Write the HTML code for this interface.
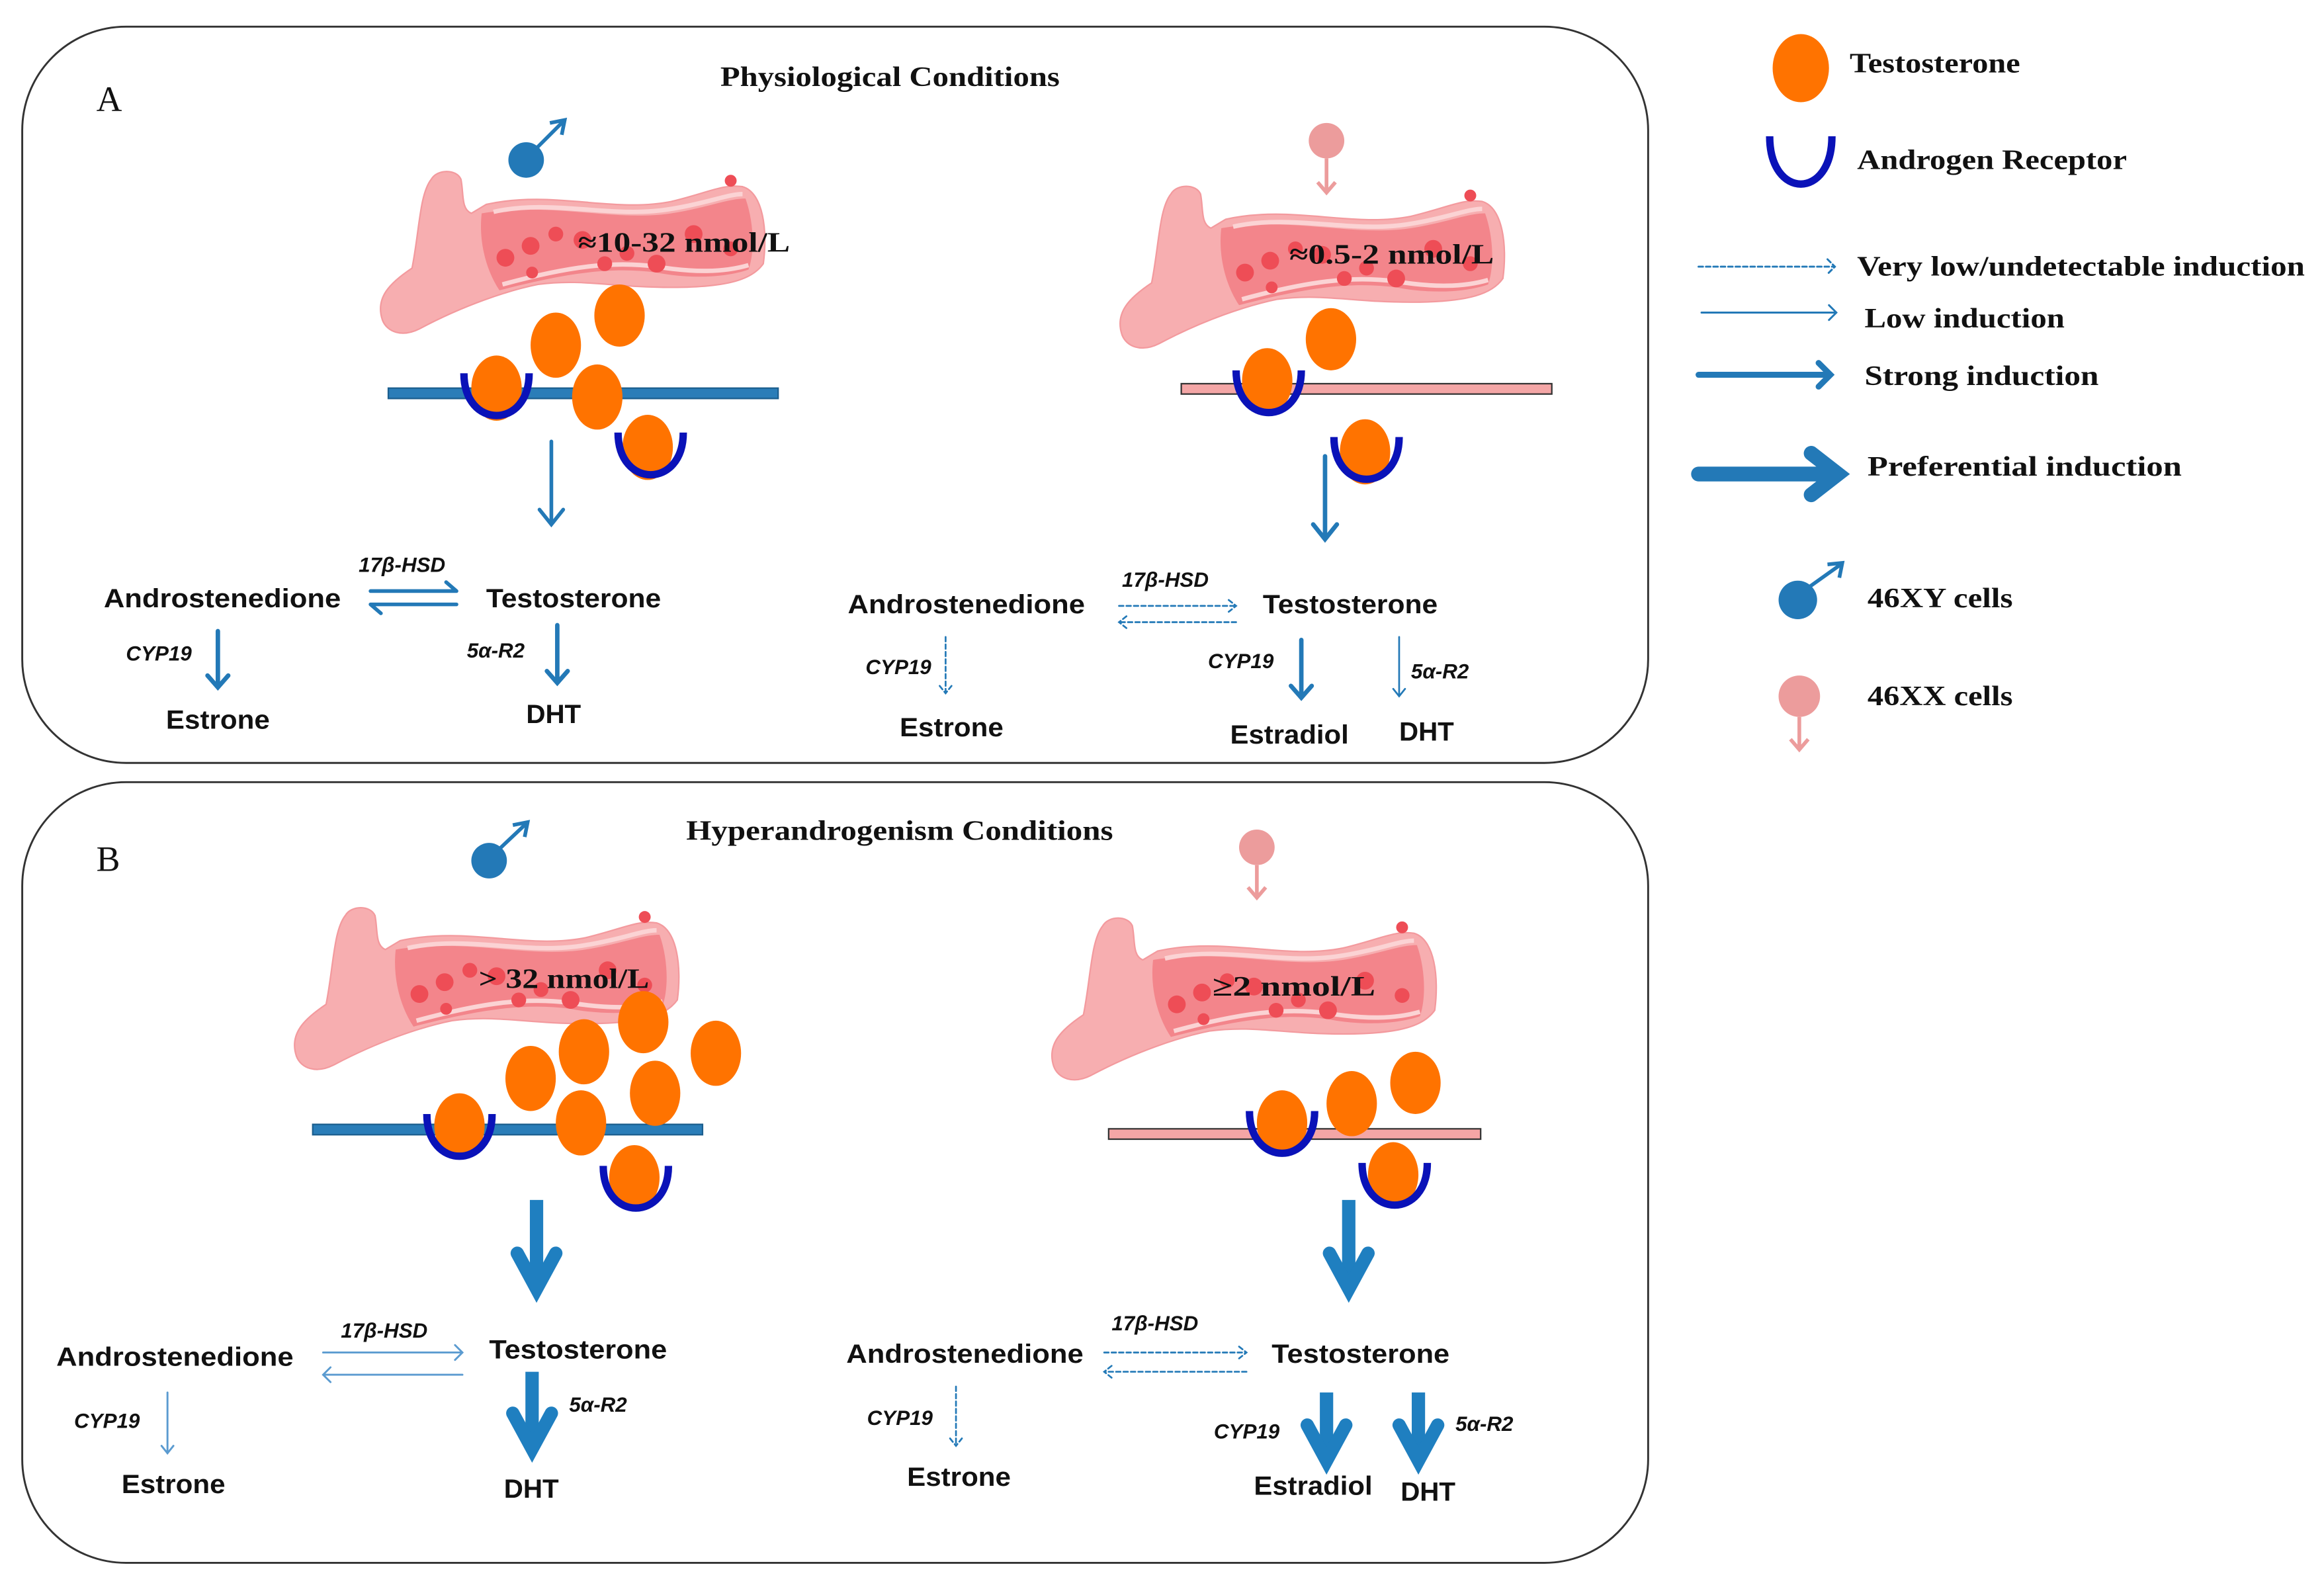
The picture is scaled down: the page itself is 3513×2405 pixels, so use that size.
<!DOCTYPE html>
<html><head><meta charset="utf-8"><style>html,body{margin:0;padding:0;background:#fff}svg{display:block}
.s{font-family:"Liberation Sans",sans-serif;font-weight:bold;font-size:18px;fill:#111}
.i{font-family:"Liberation Sans",sans-serif;font-weight:bold;font-style:italic;font-size:14px;fill:#111}
.r{font-family:"Liberation Serif",serif;font-weight:bold;font-size:19px;fill:#111}
</style></head><body>
<svg width="3513" height="2405" viewBox="0 0 1568 1074" preserveAspectRatio="none" xmlns="http://www.w3.org/2000/svg">
<defs>
<g id="ves">
<path d="M5,100 C0,85 10,75 25,65 C30,40 30,15 38,5 C42,-2 55,-2 58,5 C60,15 58,25 65,28 L75,22 C120,12 160,28 200,20 C225,14 235,8 248,10 C262,14 265,40 262,62 C255,72 240,78 200,78 C160,78 140,72 110,76 C90,80 60,90 30,106 C18,112 8,108 5,100 Z" fill="#f7aeb0" stroke="#f39a9e" stroke-width="1"/>
<path d="M72,28 C120,20 160,34 200,28 C225,24 238,18 250,18 C256,35 256,55 252,66 C235,72 210,72 190,68 C160,64 130,68 84,80 C74,65 70,45 72,28 Z" fill="#f3858b"/>
<path d="M80,27 C120,18 160,32 200,25 C225,21 238,15 248,15" fill="none" stroke="#fbd3d4" stroke-width="3"/>
<path d="M86,76 C130,64 160,60 190,64 C215,68 235,68 252,63" fill="none" stroke="#fbd3d4" stroke-width="3"/>
<g fill="#ee4d56"><circle cx="88" cy="58" r="6"/><circle cx="105" cy="50" r="6"/><circle cx="122" cy="42" r="5"/><circle cx="140" cy="46" r="6"/><circle cx="155" cy="62" r="5"/><circle cx="170" cy="55" r="5"/><circle cx="190" cy="62" r="6"/><circle cx="215" cy="42" r="6"/><circle cx="240" cy="52" r="5"/><circle cx="106" cy="68" r="4"/><circle cx="240" cy="6" r="4"/></g>
</g>
<path id="rec" d="M-22,-10 C-22,28 22,28 22,-10" fill="none" stroke="#0a12b8" stroke-width="5"/>
</defs>
<g fill="none" stroke="#333" stroke-width="1.3">
<rect x="15" y="18" width="1097" height="497" rx="70"/>
<rect x="15" y="528" width="1097" height="527" rx="70"/>
</g>
<text x="65" y="75" class="r" style="font-weight:normal;font-size:24px">A</text>
<text x="486" y="58" class="r" textLength="229" lengthAdjust="spacingAndGlyphs">Physiological Conditions</text>
<text x="65" y="588" class="r" style="font-weight:normal;font-size:24px">B</text>
<text x="463" y="567" class="r" textLength="288" lengthAdjust="spacingAndGlyphs">Hyperandrogenism Conditions</text>

<!-- ===== A left ===== -->
<circle cx="355" cy="108" r="12" fill="#2379b7"/>
<path d="M362,100 L380,82 M371,83 L381,81 L379,91" stroke="#2379b7" stroke-width="2.5" fill="none"/>
<use href="#ves" x="253" y="116"/>
<text x="390" y="170" class="r" font-size="21" textLength="143" lengthAdjust="spacingAndGlyphs">≈10-32 nmol/L</text>
<rect x="262" y="262" width="263" height="7" fill="#2a7db8" stroke="#1b5e8e"/>
<g fill="#ff7300"><ellipse cx="375" cy="233" rx="17" ry="22"/><ellipse cx="418" cy="213" rx="17" ry="21"/><ellipse cx="335" cy="262" rx="17" ry="22"/><ellipse cx="403" cy="268" rx="17" ry="22"/><ellipse cx="437" cy="302" rx="17" ry="22"/></g>
<use href="#rec" x="335" y="262"/><use href="#rec" x="439" y="302"/>
<g stroke="#2379b7" fill="none" stroke-linecap="round">
<path d="M372,298 V354 M364,344 L372,354 L380,344" stroke-width="2.5"/>
<path d="M250,399 H308 M301,393 L308,399" stroke-width="2.5"/>
<path d="M250,408 H308 M257,414 L250,408" stroke-width="2.5"/>
<path d="M147,426 V464 M140,456 L147,464 L154,456" stroke-width="3"/>
<path d="M376,422 V461 M369,453 L376,461 L383,453" stroke-width="3"/>
</g>
<text x="70" y="410" class="s" textLength="160" lengthAdjust="spacingAndGlyphs">Androstenedione</text>
<text x="242" y="386" class="i">17β-HSD</text>
<text x="328" y="410" class="s" textLength="118" lengthAdjust="spacingAndGlyphs">Testosterone</text>
<text x="85" y="446" class="i">CYP19</text>
<text x="112" y="492" class="s" textLength="70" lengthAdjust="spacingAndGlyphs">Estrone</text>
<text x="315" y="444" class="i">5α-R2</text>
<text x="355" y="488" class="s">DHT</text>

<!-- ===== A right ===== -->
<circle cx="895" cy="95" r="12" fill="#ec9c9c"/>
<path d="M895,107 V130 M889,123 L895,130 L901,123" stroke="#ec9c9c" stroke-width="2.5" fill="none"/>
<use href="#ves" x="752" y="126"/>
<text x="870" y="178" class="r" font-size="21" textLength="138" lengthAdjust="spacingAndGlyphs">≈0.5-2 nmol/L</text>
<rect x="797" y="259" width="250" height="7" fill="#f4a6a6" stroke="#333"/>
<g fill="#ff7300"><ellipse cx="855" cy="257" rx="17" ry="22"/><ellipse cx="898" cy="229" rx="17" ry="21"/><ellipse cx="921" cy="305" rx="17" ry="22"/></g>
<use href="#rec" x="856" y="260"/><use href="#rec" x="922" y="305"/>
<g stroke="#2379b7" fill="none" stroke-linecap="round">
<path d="M894,308 V364 M886,354 L894,364 L902,354" stroke-width="3"/>
<path d="M755,409 H834 M829,405 L834,409 L829,413" stroke-width="1.2" stroke-dasharray="3,2"/>
<path d="M834,420 H755 M760,416 L755,420 L760,424" stroke-width="1.2" stroke-dasharray="3,2"/>
<path d="M638,430 V468 M634,463 L638,468 L642,463" stroke-width="1.2" stroke-dasharray="3,2"/>
<path d="M878,432 V471 M871,463 L878,471 L885,463" stroke-width="3"/>
<path d="M944,430 V470 M940,465 L944,470 L948,465" stroke-width="1.2"/>
</g>
<text x="572" y="414" class="s" textLength="160" lengthAdjust="spacingAndGlyphs">Androstenedione</text>
<text x="757" y="396" class="i">17β-HSD</text>
<text x="852" y="414" class="s" textLength="118" lengthAdjust="spacingAndGlyphs">Testosterone</text>
<text x="584" y="455" class="i">CYP19</text>
<text x="607" y="497" class="s" textLength="70" lengthAdjust="spacingAndGlyphs">Estrone</text>
<text x="815" y="451" class="i">CYP19</text>
<text x="830" y="502" class="s" textLength="80" lengthAdjust="spacingAndGlyphs">Estradiol</text>
<text x="952" y="458" class="i">5α-R2</text>
<text x="944" y="500" class="s">DHT</text>

<!-- ===== Legend ===== -->
<ellipse cx="1215" cy="46" rx="19" ry="23" fill="#ff7300"/>
<text x="1248" y="49" class="r" textLength="115" lengthAdjust="spacingAndGlyphs">Testosterone</text>
<path d="M1194,92 C1194,135 1236,135 1236,92" fill="none" stroke="#0a12b8" stroke-width="5"/>
<text x="1253" y="114" class="r" textLength="182" lengthAdjust="spacingAndGlyphs">Androgen Receptor</text>
<g stroke="#2379b7" fill="none" stroke-linecap="round">
<path d="M1146,180 H1238 M1233,175 L1238,180 L1233,185" stroke-width="1.3" stroke-dasharray="3,2"/>
<path d="M1148,211 H1239 M1234,206 L1239,211 L1234,216" stroke-width="1.3"/>
<path d="M1146,253 H1234 M1227,245 L1235,253 L1227,261" stroke-width="4"/>
<path d="M1146,320 H1236 M1222,306 L1240,320 L1222,334" stroke-width="10"/>
</g>
<text x="1253" y="186" class="r" textLength="302" lengthAdjust="spacingAndGlyphs">Very low/undetectable induction</text>
<text x="1258" y="221" class="r" textLength="135" lengthAdjust="spacingAndGlyphs">Low induction</text>
<text x="1258" y="260" class="r" textLength="158" lengthAdjust="spacingAndGlyphs">Strong induction</text>
<text x="1260" y="321" class="r" textLength="212" lengthAdjust="spacingAndGlyphs">Preferential  induction</text>
<circle cx="1213" cy="405" r="13" fill="#2379b7"/>
<path d="M1221,396 L1242,381 M1233,381 L1243,380 L1241,390" stroke="#2379b7" stroke-width="2.5" fill="none"/>
<text x="1260" y="410" class="r" textLength="98" lengthAdjust="spacingAndGlyphs">46XY cells</text>
<circle cx="1214" cy="470" r="14" fill="#ec9c9c"/>
<path d="M1214,484 V506 M1208,499 L1214,506 L1220,499" stroke="#ec9c9c" stroke-width="2.5" fill="none"/>
<text x="1260" y="476" class="r" textLength="98" lengthAdjust="spacingAndGlyphs">46XX cells</text>

<!-- ===== B left ===== -->
<circle cx="330" cy="581" r="12" fill="#2379b7"/>
<path d="M337,573 L355,556 M346,557 L356,555 L354,565" stroke="#2379b7" stroke-width="2.5" fill="none"/>
<use href="#ves" x="195" y="613"/>
<text x="323" y="667" class="r" font-size="21" textLength="115" lengthAdjust="spacingAndGlyphs">&gt; 32 nmol/L</text>
<rect x="211" y="759" width="263" height="7" fill="#2a7db8" stroke="#1b5e8e"/>
<g fill="#ff7300"><ellipse cx="358" cy="728" rx="17" ry="22"/><ellipse cx="394" cy="710" rx="17" ry="22"/><ellipse cx="434" cy="690" rx="17" ry="21"/><ellipse cx="483" cy="711" rx="17" ry="22"/><ellipse cx="310" cy="760" rx="17" ry="22"/><ellipse cx="392" cy="758" rx="17" ry="22"/><ellipse cx="442" cy="738" rx="17" ry="22"/><ellipse cx="428" cy="795" rx="17" ry="22"/></g>
<use href="#rec" x="310" y="762"/><use href="#rec" x="429" y="797"/>
<g stroke="#1f7fc0" fill="none" stroke-linecap="round">
<path d="M362,810 V866" stroke-width="9" stroke-linecap="butt"/>
<path d="M349,846 L362,870 L375,846" stroke-width="9"/>
<path d="M359,926 V974" stroke-width="9" stroke-linecap="butt"/>
<path d="M346,954 L359,978 L372,954" stroke-width="9"/>
</g>
<g stroke="#5b9bd0" fill="none" stroke-linecap="round" stroke-width="1.3">
<path d="M218,913 H312 M307,908 L312,913 L307,918"/>
<path d="M312,928 H218 M223,923 L218,928 L223,933"/>
<path d="M113,940 V981 M109,976 L113,981 L117,976"/>
</g>
<text x="38" y="922" class="s" textLength="160" lengthAdjust="spacingAndGlyphs">Androstenedione</text>
<text x="230" y="903" class="i">17β-HSD</text>
<text x="330" y="917" class="s" textLength="120" lengthAdjust="spacingAndGlyphs">Testosterone</text>
<text x="50" y="964" class="i">CYP19</text>
<text x="82" y="1008" class="s" textLength="70" lengthAdjust="spacingAndGlyphs">Estrone</text>
<text x="384" y="953" class="i">5α-R2</text>
<text x="340" y="1011" class="s">DHT</text>

<!-- ===== B right ===== -->
<circle cx="848" cy="572" r="12" fill="#ec9c9c"/>
<path d="M848,584 V606 M842,599 L848,606 L854,599" stroke="#ec9c9c" stroke-width="2.5" fill="none"/>
<use href="#ves" x="706" y="620"/>
<text x="818" y="672" class="r" font-size="21" textLength="110" lengthAdjust="spacingAndGlyphs">≥2  nmol/L</text>
<rect x="748" y="762" width="251" height="7" fill="#f4a6a6" stroke="#333"/>
<g fill="#ff7300"><ellipse cx="865" cy="758" rx="17" ry="22"/><ellipse cx="912" cy="745" rx="17" ry="22"/><ellipse cx="955" cy="731" rx="17" ry="21"/><ellipse cx="940" cy="793" rx="17" ry="22"/></g>
<use href="#rec" x="865" y="760"/><use href="#rec" x="941" y="795"/>
<g stroke="#1f7fc0" fill="none" stroke-linecap="round">
<path d="M910,810 V866" stroke-width="9" stroke-linecap="butt"/>
<path d="M897,846 L910,870 L923,846" stroke-width="9"/>
<path d="M895,940 V982" stroke-width="9" stroke-linecap="butt"/>
<path d="M882,962 L895,986 L908,962" stroke-width="9"/>
<path d="M957,940 V982" stroke-width="9" stroke-linecap="butt"/>
<path d="M944,962 L957,986 L970,962" stroke-width="9"/>
</g>
<g stroke="#2379b7" fill="none" stroke-linecap="round" stroke-width="1.2" stroke-dasharray="3,2">
<path d="M745,913 H841 M836,909 L841,913 L836,917"/>
<path d="M841,926 H745 M750,922 L745,926 L750,930"/>
<path d="M645,936 V976 M641,971 L645,976 L649,971"/>
</g>
<text x="571" y="920" class="s" textLength="160" lengthAdjust="spacingAndGlyphs">Androstenedione</text>
<text x="750" y="898" class="i">17β-HSD</text>
<text x="858" y="920" class="s" textLength="120" lengthAdjust="spacingAndGlyphs">Testosterone</text>
<text x="585" y="962" class="i">CYP19</text>
<text x="612" y="1003" class="s" textLength="70" lengthAdjust="spacingAndGlyphs">Estrone</text>
<text x="819" y="971" class="i">CYP19</text>
<text x="846" y="1009" class="s" textLength="80" lengthAdjust="spacingAndGlyphs">Estradiol</text>
<text x="982" y="966" class="i">5α-R2</text>
<text x="945" y="1013" class="s">DHT</text>
</svg>
</body></html>
